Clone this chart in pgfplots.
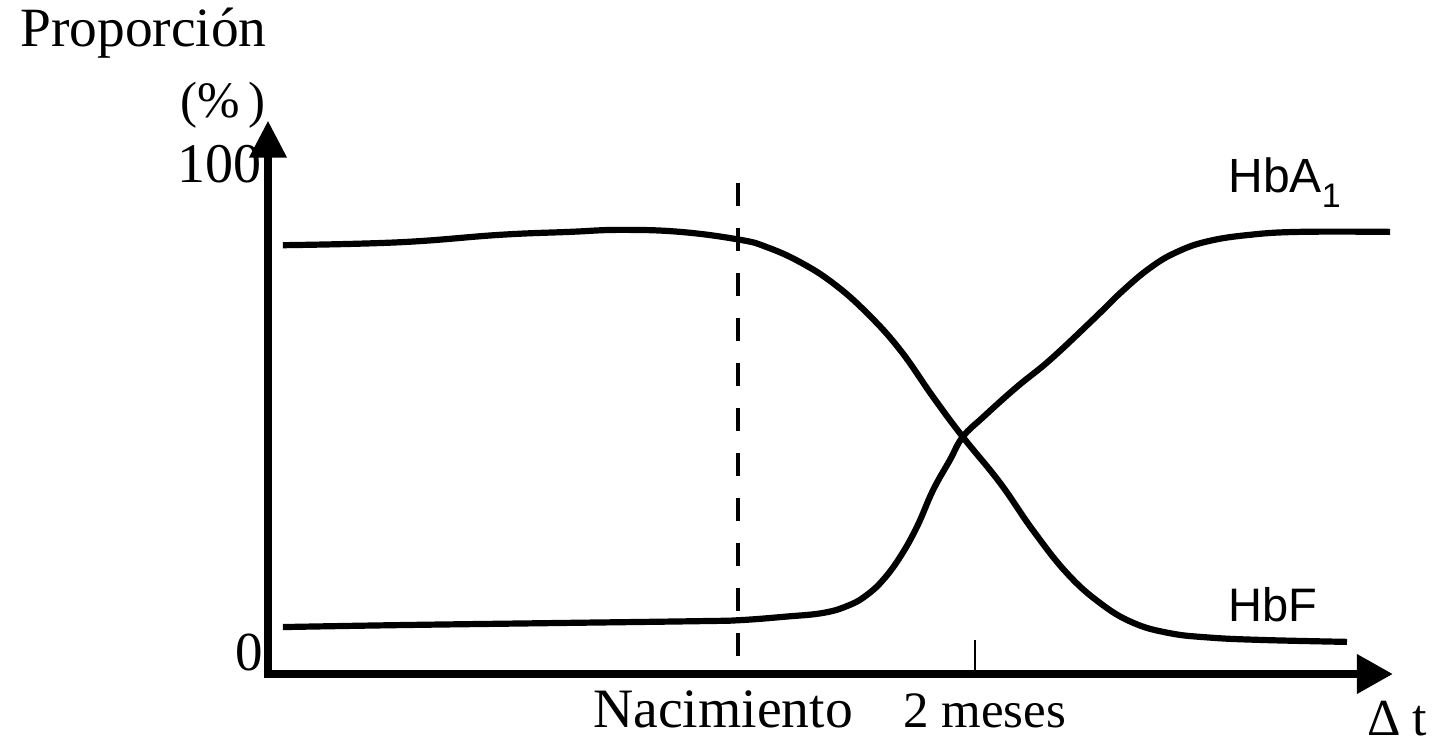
\documentclass[border=0pt]{standalone}
\usepackage{fontspec}
\setmainfont{Liberation Serif}
\newfontfamily\arial{Liberation Sans}
\usepackage{pgfplots}
\pgfplotsset{compat=1.18}
\usetikzlibrary{arrows.meta}

\begin{document}
\begin{tikzpicture}[x=0.5pt,y=0.5pt]
\useasboundingbox (0,0) rectangle (1439,744);
\begin{axis}[
  at={(134pt,35pt)}, anchor=south west,
  scale only axis, width=562.4pt, height=276.64pt,
  xmin=-120, xmax=167.2, ymin=0, ymax=112,
  hide axis, clip=false,
]
% axes with arrow heads
\draw[line width=3.75pt, line join=miter,
  {Triangle[length=18.5pt,width=18pt]}-{Triangle[length=18pt,width=19pt]}]
  (axis cs:-120,112) -- (axis cs:-120,0) -- (axis cs:167.2,0);
% birth and 2 months
\draw[line width=2pt, dash pattern=on 11.5pt off 11pt] (axis cs:0,99.4) -- (axis cs:0,3.6);
\draw[line width=0.75pt] (axis cs:60.5,0) -- (axis cs:60.5,6.9);
% HbF (falling)
\addplot[line width=3.1pt, smooth, tension=0.7] coordinates {
  (-116.2,86.8) (-86.3,87.4) (-60.8,88.9) (-42.9,89.5) (-30.1,89.9) (-14.8,89.5)
  (0.5,87.9) (7.4,86.4) (15.8,83.4) (24.3,79.1) (32.9,73.1) (41.4,65.6)
  (49.8,56.1) (57.4,48.0) (66.9,38.7) (75.3,29.1) (84.0,20.4) (92.4,14.4)
  (100.8,10.4) (110.0,8.3) (120.0,7.4) (133.3,6.9) (155.5,6.5)};
% HbA1 (rising)
\addplot[line width=3.1pt, smooth, tension=0.7] coordinates {
  (-116.2,9.5) (-86.3,9.9) (-48.0,10.3) (-9.7,10.7) (0.5,10.9) (12.0,11.6)
  (22.0,12.4) (28.6,14.0) (32.9,16.0) (37.0,19.0) (41.4,23.7) (45.7,29.8) (49.8,37.2)
  (54.1,43.3) (57.4,48.0) (62.6,52.0) (71.2,58.1) (79.7,63.6) (90.6,71.7)
  (98.0,77.4) (105.2,82.2) (112.0,85.4) (120.0,87.6) (130.7,88.9) (143.5,89.5) (166.5,89.5)};
\end{axis}
% text
\node[anchor=base west, inner sep=0pt, font=\fontsize{27.7}{27.7}\selectfont] at (20,697) {Proporción};
\node[anchor=base, inner sep=0pt, font=\fontsize{25.5}{25.5}\selectfont] at (223,626) {(\%\,)};
\node[anchor=base east, inner sep=0pt, font=\fontsize{28}{28}\selectfont] at (262,561) {100};
\node[anchor=base east, inner sep=0pt, font=\fontsize{27.5}{27.5}\selectfont] at (263,74) {0};
\node[anchor=base west, inner sep=0pt, font=\fontsize{27.8}{27.8}\selectfont] at (593,17) {Nacimiento};
\node[anchor=base west, inner sep=0pt, font=\fontsize{25.5}{25.5}\selectfont] at (903,17) {2 meses};
\node[anchor=base west, inner sep=0pt, font=\fontsize{26}{26}\selectfont] at (1367,9) {Δ\hspace{6pt}t};
\node[anchor=base west, inner sep=0pt, font=\arial\fontsize{24}{24}\selectfont] at (1228,551)
  {HbA\raisebox{-7.5pt}{\fontsize{17}{17}\selectfont 1}};
\node[anchor=base west, inner sep=0pt, font=\arial\fontsize{23.5}{23.5}\selectfont] at (1228,122) {HbF};
\end{tikzpicture}
\end{document}
